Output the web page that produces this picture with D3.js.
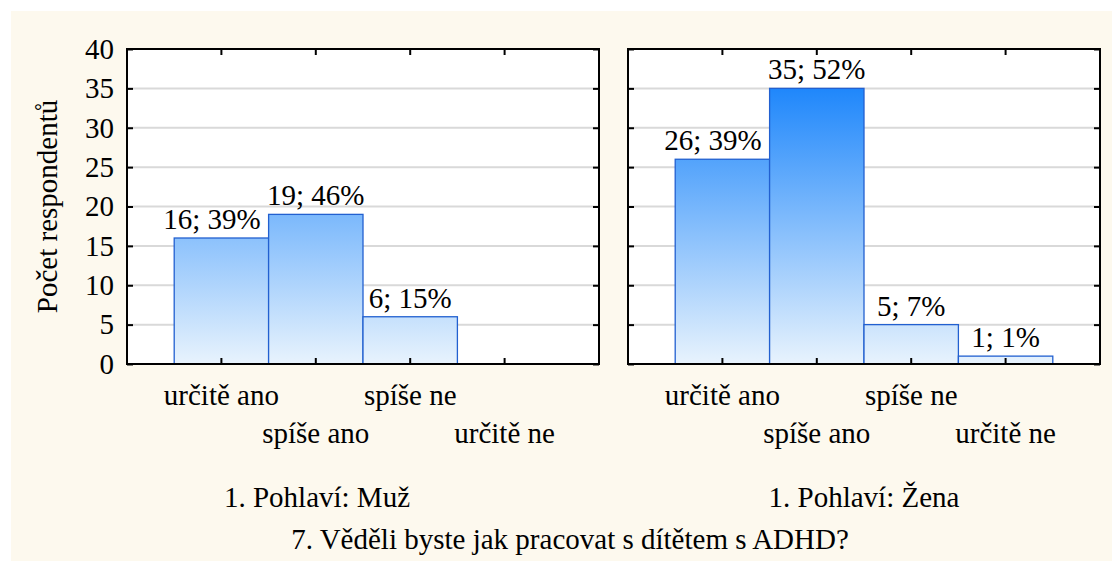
<!DOCTYPE html>
<html>
<head>
<meta charset="utf-8">
<script src="https://cdn.jsdelivr.net/npm/d3@7"></script>
<style>
  html, body { margin: 0; padding: 0; background: #ffffff; }
  svg { display: block; }
</style>
</head>
<body>
<div id="container"></div>
<script>
"use strict";

const categories = ["určitě ano", "spíše ano", "spíše ne", "určitě ne"];
const muzCounts = [16, 19, 6, 0];
const muzPercents = [39, 46, 15, 0];
const zenaCounts = [26, 35, 5, 1];
const zenaPercents = [39, 52, 7, 1];
const yTicks = [0, 5, 10, 15, 20, 25, 30, 35, 40];
const panelTitles = ["1. Pohlaví: Muž", "1. Pohlaví: Žena"];
const yTitle = "Počet respondentů";
const mainTitle = "7. Věděli byste jak pracovat s dítětem s ADHD?";

const width = 1112;
const height = 562;
const fontSize = 29;
// Only one family: a fallback list ends up on the generic face here.
const fontFamily = '"Liberation Serif"';
const panelTop = 49;
const panelBottom = 364;
const panelWidth = 472;
const panelLefts = [127, 628];

const svg = d3.create("svg").attr("width", width).attr("height", height);
d3.select("#container").append(() => svg.node());

// Cream background of the whole figure.
svg.append("rect")
  .attr("x", 11).attr("y", 11)
  .attr("width", width - 11).attr("height", 550)
  .attr("fill", "#fdf9ee");

const y = d3.scaleLinear().domain([0, 40]).range([panelBottom - panelTop, 0]);
const x = d3.scaleBand().domain(categories).range([0, panelWidth]).paddingInner(0).paddingOuter(0.5);

// One gradient for all bars, fixed to the plot height so taller bars get darker tops.
const defs = svg.append("defs");
const grad = defs.append("linearGradient")
  .attr("id", "barGrad")
  .attr("gradientUnits", "userSpaceOnUse")
  .attr("x1", 0).attr("x2", 0)
  .attr("y1", y(35)).attr("y2", y(0));
grad.append("stop").attr("offset", 0).attr("stop-color", "#1f87fb");
grad.append("stop").attr("offset", 1).attr("stop-color", "#e8f3fd");

function addText(parent) {
  return parent.append("text")
    .style("font-family", fontFamily)
    .style("font-size", `${fontSize}px`)
    .attr("fill", "#000");
}

/**
 * @param {number} left
 * @param {number[]} counts
 * @param {number[]} percents
 * @param {boolean} showYLabels
 */
function drawPanel(left, counts, percents, showYLabels) {
  const g = svg.append("g").attr("transform", `translate(${left}, ${panelTop})`);
  const ph = panelBottom - panelTop;

  g.append("rect").attr("width", panelWidth).attr("height", ph).attr("fill", "#ffffff");

  // Grid lines.
  g.selectAll(".grid")
    .data(yTicks.filter((t) => t > 0 && t < 40))
    .enter()
    .append("line")
    .attr("x1", 0).attr("x2", panelWidth)
    .attr("y1", (d) => y(d)).attr("y2", (d) => y(d))
    .attr("stroke", "#d9d9d9")
    .attr("stroke-width", 2);

  const data = categories.map((c, i) => ({ key: c, value: counts[i], pct: percents[i] }));

  g.selectAll(".bar")
    .data(data.filter((d) => d.value > 0))
    .enter()
    .append("rect")
    .attr("x", (d) => x(d.key))
    .attr("y", (d) => y(d.value))
    .attr("width", x.bandwidth())
    .attr("height", (d) => y(0) - y(d.value))
    .attr("fill", "url(#barGrad)")
    .attr("stroke", "#2260d0")
    .attr("stroke-width", 1.3);

  // Value labels; shift left when the next bar is taller so they don't collide.
  data.filter((d) => d.value > 0).forEach((d) => {
    const t = addText(g)
      .attr("text-anchor", "middle")
      .attr("x", x(d.key) + x.bandwidth() / 2)
      .attr("y", y(d.value) - 9)
      .text(`${d.value}; ${d.pct}%`);
    const i = categories.indexOf(d.key);
    if (i < categories.length - 1 && counts[i + 1] > d.value) {
      const w = t.node().getBBox().width;
      t.attr("x", x(d.key) + x.bandwidth() - 8 - w / 2);
    }
  });

  // Y axes on both sides, ticks pointing inwards.
  const yAxisLeft = g.append("g")
    .call(d3.axisLeft(y).tickValues(yTicks).tickSizeInner(-6).tickSizeOuter(0).tickPadding(13));
  yAxisLeft.select(".domain").remove();
  yAxisLeft.selectAll("line").attr("stroke", "#000").attr("stroke-width", 2);
  yAxisLeft.selectAll("text")
    .style("font-family", fontFamily)
    .style("font-size", `${fontSize}px`)
    .attr("fill", "#000");
  if (!showYLabels) yAxisLeft.selectAll("text").remove();

  const yAxisRight = g.append("g")
    .attr("transform", `translate(${panelWidth}, 0)`)
    .call(d3.axisRight(y).tickValues(yTicks).tickSizeInner(-6).tickSizeOuter(0).tickFormat(""));
  yAxisRight.select(".domain").remove();
  yAxisRight.selectAll("line").attr("stroke", "#000").attr("stroke-width", 2);

  // Top ticks.
  const xAxisTop = g.append("g")
    .call(d3.axisTop(x).tickSizeInner(-6).tickSizeOuter(0).tickFormat(""));
  xAxisTop.select(".domain").remove();
  xAxisTop.selectAll("line").attr("stroke", "#000").attr("stroke-width", 2);

  // Bottom axis with staggered labels. Drawn after the bars.
  const xAxisBottom = g.append("g")
    .attr("transform", `translate(0, ${ph})`)
    .call(d3.axisBottom(x).tickSizeInner(-6).tickSizeOuter(0));
  xAxisBottom.select(".domain").remove();
  xAxisBottom.selectAll("line").attr("stroke", "#000").attr("stroke-width", 2);
  xAxisBottom.selectAll("text")
    .style("font-family", fontFamily)
    .style("font-size", `${fontSize}px`)
    .attr("fill", "#000")
    .attr("dy", 0)
    .attr("y", (d, i) => (i % 2 === 0 ? 41 : 79));

  // Frame.
  g.append("rect")
    .attr("width", panelWidth).attr("height", ph)
    .attr("fill", "none")
    .attr("stroke", "#000")
    .attr("stroke-width", 2);
}

drawPanel(panelLefts[0], muzCounts, muzPercents, true);
drawPanel(panelLefts[1], zenaCounts, zenaPercents, false);

// Axis title.
addText(svg)
  .attr("transform", `translate(57, ${(panelTop + panelBottom) / 2}) rotate(-90)`)
  .attr("text-anchor", "middle")
  .text(yTitle);

// Panel titles.
addText(svg)
  .attr("x", (35 + panelLefts[0] + panelWidth) / 2)
  .attr("y", 507)
  .attr("text-anchor", "middle")
  .text(panelTitles[0]);
addText(svg)
  .attr("x", panelLefts[1] + panelWidth / 2)
  .attr("y", 507)
  .attr("text-anchor", "middle")
  .text(panelTitles[1]);

addText(svg)
  .attr("x", 570)
  .attr("y", 549)
  .attr("text-anchor", "middle")
  .text(mainTitle);
</script>
</body>
</html>
